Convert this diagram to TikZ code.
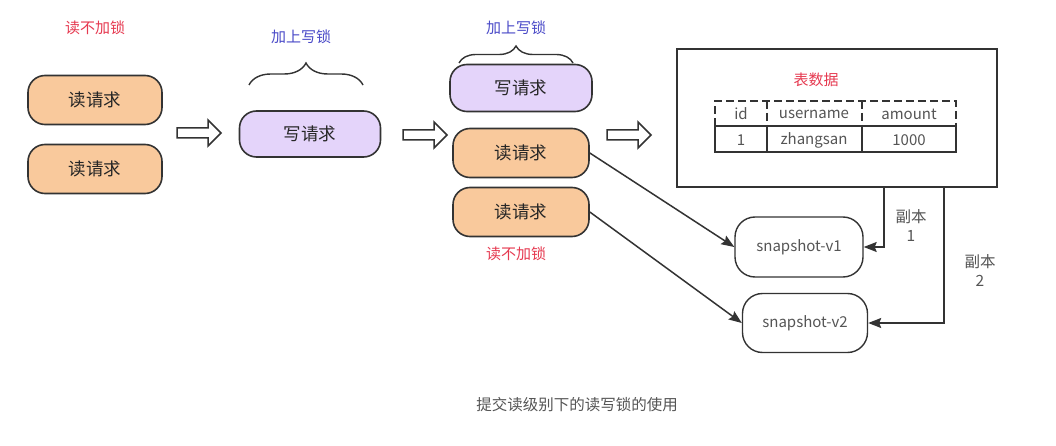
\documentclass[tikz,border=0pt]{standalone}
\usepackage{fontspec}
\setmainfont{Noto Sans CJK SC}
\usetikzlibrary{decorations.pathreplacing,arrows.meta}
\definecolor{rdfill}{HTML}{F9C99C}
\definecolor{wrfill}{HTML}{E4D4FA}
\definecolor{lblred}{HTML}{E63950}
\definecolor{lblblue}{HTML}{4A4AC8}
\definecolor{edge}{HTML}{333333}
\definecolor{txtgray}{HTML}{555555}
\begin{document}
\begin{tikzpicture}[x=1pt,y=-1pt,
  req/.style={draw=edge, line width=1.6pt, rounded corners=17pt, minimum width=134pt, minimum height=49pt, font=\fontsize{17.5}{19}\selectfont, text=black!85, inner sep=0pt},
  rd/.style={req, fill=rdfill},
  wr/.style={req, fill=wrfill},
  snap/.style={draw=edge, line width=1.4pt, rounded corners=20pt, minimum height=60pt, font=\fontsize{15}{17}\selectfont, text=txtgray, inner sep=0pt},
  redlbl/.style={text=lblred, font=\fontsize{15}{17}\selectfont},
  bluelbl/.style={text=lblblue, font=\fontsize{15}{17}\selectfont},
  graylbl/.style={text=txtgray, font=\fontsize{15.5}{19}\selectfont, align=center},
  hollowarr/.pic={\draw[draw=edge, fill=white, line width=1.5pt, line join=miter]
      (-22,-5) -- (9,-5) -- (9,-13) -- (22,0) -- (9,13) -- (9,5) -- (-22,5) -- cycle;},
  bracestyle/.style={draw=edge, line width=1.4pt, decorate},
  conn/.style={draw=edge, line width=1.5pt, -{Stealth[length=13pt,width=10pt,inset=2pt]}},
  cell/.style={text=txtgray, font=\fontsize{15}{17}\selectfont},
  tline/.style={draw=edge, line width=1.6pt},
]
\useasboundingbox[fill=white] (0,0) rectangle (1056,446);

% left column
\node[redlbl] (lbl1) at (95,28) {读不加锁};
\node[rd] (r1) at (95,100) {读请求};
\node[rd] (r2) at (95,169) {读请求};
\pic at (199,133) {hollowarr};

% write request
\node[bluelbl] (lbl2) at (301,37) {加上写锁};
\draw[bracestyle, decoration={brace, amplitude=22pt}] (249,85) -- (363,85);
\node[wr, minimum width=141pt, minimum height=46pt] (w1) at (310,134) {写请求};
\pic at (425,135) {hollowarr};

% third column
\node[bluelbl] (lbl3) at (516,28) {加上写锁};
\draw[bracestyle, decoration={brace, amplitude=17pt}] (459,63) -- (573,63);
\node[wr, minimum width=142pt, minimum height=47pt] (w2) at (521,88) {写请求};
\node[rd, minimum width=136pt] (r3) at (521,153) {读请求};
\node[rd, minimum width=136pt] (r4) at (521,212) {读请求};
\node[redlbl] (lbl4) at (516,254) {读不加锁};
\pic at (629,135) {hollowarr};

% table box
\node[draw=edge, line width=1.6pt, minimum width=320pt, minimum height=138pt, inner sep=0pt] (tbl) at (837,118) {};
\node[redlbl] (lbl5) at (816,80) {表数据};
\draw[tline, dash pattern=on 8pt off 4pt] (715,126) -- (715,101) -- (956,101) -- (956,126);
\draw[tline, dash pattern=on 8pt off 4pt] (767,101) -- (767,126);
\draw[tline, dash pattern=on 8pt off 4pt] (862,101) -- (862,126);
\draw[tline] (715,126) rectangle (956,152);
\draw[tline] (767,126) -- (767,152);
\draw[tline] (862,126) -- (862,152);
\node[cell] (h1) at (741,114) {id};
\node[cell] (h2) at (814,114) {username};
\node[cell] (h3) at (909,114) {amount};
\node[cell] (d1) at (741,140) {1};
\node[cell] (d2) at (814,140) {zhangsan};
\node[cell] (d3) at (909,140) {1000};

% snapshots
\node[snap, minimum width=128pt] (v1) at (799,247) {snapshot-v1};
\node[snap, minimum width=125pt, minimum height=59pt] (v2) at (805,323) {snapshot-v2};

\coordinate (c1) at (884,0);
\coordinate (c2) at (944,0);
\draw[conn] (tbl.south -| c1) |- (v1);
\draw[conn] (tbl.south -| c2) |- (v2);
\node[graylbl] (cp1) at (911,225) {副本\\1};
\node[graylbl] (cp2) at (980,270) {副本\\2};

\draw[conn] (r3.east) -- (v1.west);
\draw[conn] (r4.east) -- (v2.west);

\node[text=txtgray, font=\fontsize{15.5}{17}\selectfont] (cap) at (577,405) {提交读级别下的读写锁的使用};
\end{tikzpicture}
\end{document}
